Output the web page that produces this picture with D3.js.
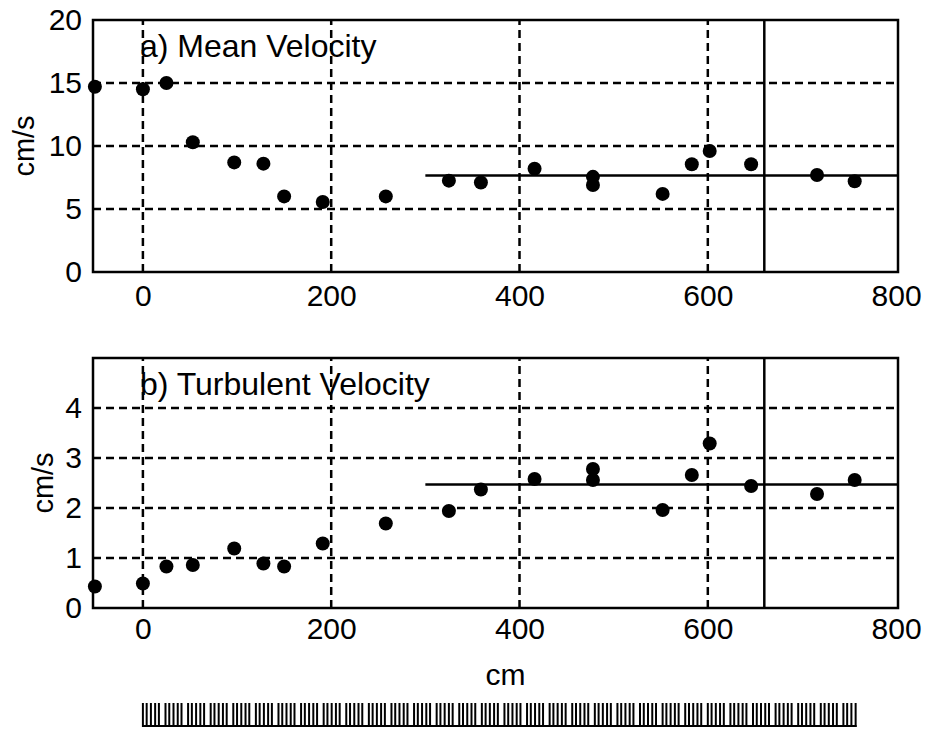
<!DOCTYPE html>
<html>
<head>
<meta charset="utf-8">
<script src="https://cdn.jsdelivr.net/npm/d3@7"></script>
<style>
  html, body { margin: 0; padding: 0; background: #fff; }
  svg { display: block; font-family: "Liberation Sans", Arial, sans-serif; }
</style>
</head>
<body>
<svg id="chart" width="929" height="730"></svg>
<script>
// ---- data ----
const positions = [-51, 0, 25, 53, 97, 128, 150, 191, 258, 325, 359, 416, 478, 478, 552, 583, 602, 646, 716, 756];
const meanVelocity = [14.7, 14.5, 15.0, 10.3, 8.7, 8.6, 6.0, 5.55, 6.0, 7.25, 7.1, 8.2, 7.55, 6.9, 6.2, 8.55, 9.6, 8.55, 7.7, 7.2];
const turbVelocity = [0.43, 0.49, 0.83, 0.86, 1.19, 0.89, 0.83, 1.29, 1.69, 1.94, 2.37, 2.58, 2.78, 2.56, 1.96, 2.66, 3.29, 2.44, 2.28, 2.56];
const meanLevel = 7.65;        // horizontal reference line, top panel
const turbLevel = 2.47;        // horizontal reference line, bottom panel
const levelStart = 300;        // cm where reference lines begin
const markerX = 660;           // solid vertical line position (cm)
const xTicks = [0, 200, 400, 600, 800];
const xGrid = [0, 200, 400, 600];
const meanTicks = [0, 5, 10, 15, 20];
const meanGrid = [5, 10, 15];
const turbTicks = [0, 1, 2, 3, 4];
const turbGrid = [1, 2, 3, 4];
const xDomain = [-53, 802];
const canopyRange = [0, 758];
const canopyUnit = 24;                     // cm, repeating stem group
const canopyStems = [0, 4, 8.5, 13, 17];   // stem offsets (cm) within a group

// ---- layout ----
const svg = d3.select("#chart");
const x = d3.scaleLinear().domain(xDomain).range([93, 898]);

const panels = [
  { values: meanVelocity, level: meanLevel, ticks: meanTicks, grid: meanGrid,
    domain: [0, 20], range: [272, 20], title: "a) Mean Velocity", pad: 13, ylabX: 34 },
  { values: turbVelocity, level: turbLevel, ticks: turbTicks, grid: turbGrid,
    domain: [0, 5], range: [608, 358], title: "b) Turbulent Velocity", pad: 10, ylabX: 53 }
];

panels.forEach(p => {
  const y = d3.scaleLinear().domain(p.domain).range(p.range);
  const g = svg.append("g");
  const [x0, x1] = x.range();
  const [yb, yt] = y.range();

  // dashed grid
  g.selectAll(".hg").data(p.grid).join("line")
    .attr("x1", x0).attr("x2", x1)
    .attr("y1", d => y(d)).attr("y2", d => y(d))
    .attr("stroke", "#000").attr("stroke-width", 2.5).attr("stroke-dasharray", "8,5");
  g.selectAll(".vg").data(xGrid).join("line")
    .attr("x1", d => x(d)).attr("x2", d => x(d))
    .attr("y1", yb).attr("y2", yt)
    .attr("stroke", "#000").attr("stroke-width", 2.5).attr("stroke-dasharray", "8,5");

  // solid vertical line
  g.append("line")
    .attr("x1", x(markerX)).attr("x2", x(markerX))
    .attr("y1", yb).attr("y2", yt)
    .attr("stroke", "#000").attr("stroke-width", 2.5);

  // reference level
  g.append("line")
    .attr("x1", x(levelStart)).attr("x2", x1)
    .attr("y1", y(p.level)).attr("y2", y(p.level))
    .attr("stroke", "#000").attr("stroke-width", 2.5);

  // frame
  g.append("rect")
    .attr("x", x0).attr("y", yt).attr("width", x1 - x0).attr("height", yb - yt)
    .attr("fill", "none").attr("stroke", "#000").attr("stroke-width", 2.5);

  // points
  g.selectAll("circle").data(p.values).join("circle")
    .attr("cx", (d, i) => x(positions[i])).attr("cy", d => y(d))
    .attr("r", 7).attr("fill", "#000");

  // axes
  const ax = g.append("g").attr("transform", `translate(0,${yb})`)
    .call(d3.axisBottom(x).tickValues(xTicks).tickSize(0).tickPadding(p.pad).tickFormat(d3.format("d")));
  const ay = g.append("g").attr("transform", `translate(${x0},0)`)
    .call(d3.axisLeft(y).tickValues(p.ticks).tickSize(0).tickPadding(11).tickFormat(d3.format("d")));
  [ax, ay].forEach(a => {
    a.select(".domain").remove();
    a.selectAll("text").attr("font-size", 30).attr("fill", "#000")
      .attr("font-family", "Liberation Sans, Arial, sans-serif");
  });

  // title
  g.append("text").attr("x", x(0) - 3).attr("y", yt + 37)
    .attr("font-size", 32).attr("fill", "#000").text(p.title);

  // y label
  g.append("text")
    .attr("transform", `translate(${p.ylabX},${(yb + yt) / 2}) rotate(-90)`)
    .attr("text-anchor", "middle").attr("font-size", 29).attr("fill", "#000")
    .text("cm/s");
});

// x label
svg.append("text").attr("x", x(385)).attr("y", 685)
  .attr("text-anchor", "middle").attr("font-size", 30).attr("fill", "#000").text("cm");

// canopy stem diagram
const stems = [];
for (let s = canopyRange[0]; s < canopyRange[1]; s += canopyUnit) {
  canopyStems.forEach(o => { if (s + o <= canopyRange[1]) stems.push(s + o); });
}
const cg = svg.append("g");
cg.selectAll("line").data(stems).join("line")
  .attr("x1", d => x(d)).attr("x2", d => x(d))
  .attr("y1", 703).attr("y2", 727)
  .attr("stroke", "#000").attr("stroke-width", 2);
cg.append("line")
  .attr("x1", x(canopyRange[0])).attr("x2", x(canopyRange[1]))
  .attr("y1", 726).attr("y2", 726)
  .attr("stroke", "#000").attr("stroke-width", 2);
</script>
</body>
</html>
